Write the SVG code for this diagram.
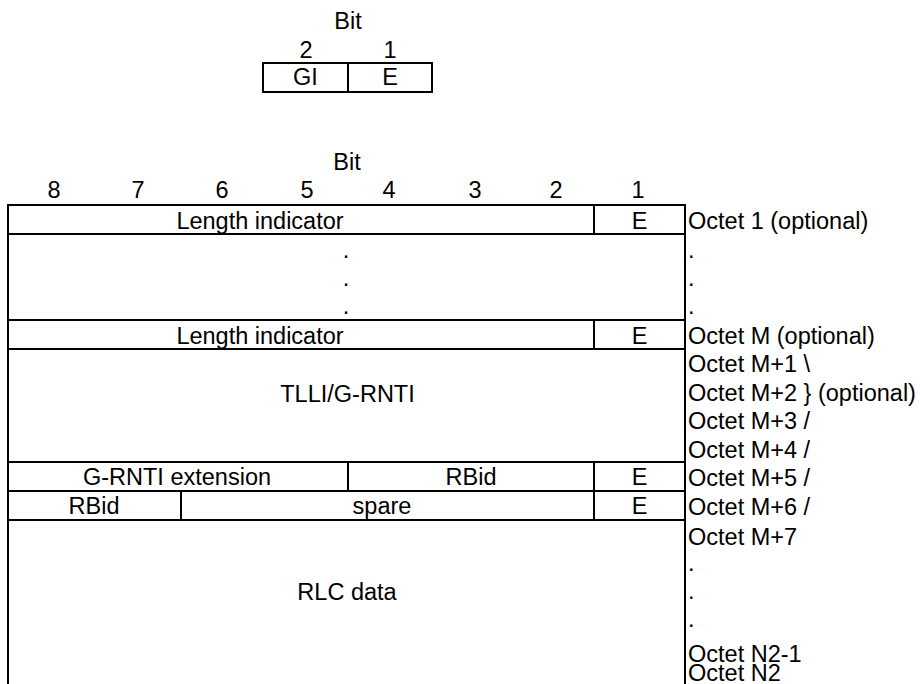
<svg xmlns="http://www.w3.org/2000/svg" width="920" height="684" viewBox="0 0 920 684">
<style>
text{font-family:"Liberation Sans",Arial,sans-serif;font-size:23.5px;fill:#000}
.c{text-anchor:middle}
.l{text-anchor:start}
.ln{stroke:#000;stroke-width:2;fill:none}
</style>
<rect width="920" height="684" fill="#fff"/>
<g id="small-header">
<text class="c" x="348" y="29">Bit</text>
<text class="c" x="306" y="58">2</text>
<text class="c" x="390" y="58">1</text>
</g>
<g id="small-box">
<rect class="ln" x="263" y="63" width="169" height="29"/>
<line class="ln" x1="348" y1="63" x2="348" y2="92"/>
<text class="c" x="305.5" y="85">GI</text>
<text class="c" x="390" y="85">E</text>
</g>
<g id="main-header">
<text class="c" x="347" y="170">Bit</text>
<text class="c" x="54" y="198">8</text>
<text class="c" x="138" y="198">7</text>
<text class="c" x="222" y="198">6</text>
<text class="c" x="307" y="198">5</text>
<text class="c" x="389" y="198">4</text>
<text class="c" x="475" y="198">3</text>
<text class="c" x="556" y="198">2</text>
<text class="c" x="638" y="198">1</text>
</g>
<g id="frame">
<line class="ln" x1="8" y1="205" x2="8" y2="684"/>
<line class="ln" x1="685" y1="205" x2="685" y2="684"/>
<line class="ln" x1="7" y1="205" x2="686" y2="205"/>
<line class="ln" x1="7" y1="234" x2="686" y2="234"/>
<line class="ln" x1="7" y1="320" x2="686" y2="320"/>
<line class="ln" x1="7" y1="349" x2="686" y2="349"/>
<line class="ln" x1="7" y1="462" x2="686" y2="462"/>
<line class="ln" x1="7" y1="491" x2="686" y2="491"/>
<line class="ln" x1="7" y1="520" x2="686" y2="520"/>
</g>
<g id="row-octet1">
<line class="ln" x1="594" y1="205" x2="594" y2="234"/>
<text class="c" x="260" y="229">Length indicator</text>
<text class="c" x="639.5" y="229">E</text>
</g>
<g id="row-dots">
<text class="c" x="346" y="258">.</text>
<text class="c" x="346" y="286">.</text>
<text class="c" x="346" y="314">.</text>
</g>
<g id="row-octetM">
<line class="ln" x1="594" y1="320" x2="594" y2="349"/>
<text class="c" x="260" y="344">Length indicator</text>
<text class="c" x="639.5" y="344">E</text>
</g>
<g id="row-tlli">
<text class="c" x="347.5" y="402">TLLI/G-RNTI</text>
</g>
<g id="row-grnti-ext">
<line class="ln" x1="348" y1="462" x2="348" y2="491"/>
<line class="ln" x1="594" y1="462" x2="594" y2="491"/>
<text class="c" x="177" y="485">G-RNTI extension</text>
<text class="c" x="471" y="485">RBid</text>
<text class="c" x="639.5" y="485">E</text>
</g>
<g id="row-rbid-spare">
<line class="ln" x1="181" y1="491" x2="181" y2="520"/>
<line class="ln" x1="594" y1="491" x2="594" y2="520"/>
<text class="c" x="94" y="514">RBid</text>
<text class="c" x="382" y="514">spare</text>
<text class="c" x="639.5" y="514">E</text>
</g>
<g id="row-rlc">
<text class="c" x="347" y="600">RLC data</text>
</g>
<g id="octet-labels">
<text class="l" x="688" y="229">Octet 1 (optional)</text>
<text class="l" x="688" y="258">.</text>
<text class="l" x="688" y="286">.</text>
<text class="l" x="688" y="314">.</text>
<text class="l" x="688" y="344">Octet M (optional)</text>
<text class="l" x="688" y="372">Octet M+1 \</text>
<text class="l" x="688" y="401">Octet M+2 } (optional)</text>
<text class="l" x="688" y="429">Octet M+3 /</text>
<text class="l" x="688" y="458">Octet M+4 /</text>
<text class="l" x="688" y="486">Octet M+5 /</text>
<text class="l" x="688" y="515">Octet M+6 /</text>
<text class="l" x="688" y="545">Octet M+7</text>
<text class="l" x="688" y="571">.</text>
<text class="l" x="688" y="599">.</text>
<text class="l" x="688" y="627">.</text>
<text class="l" x="688" y="662">Octet N2-1</text>
<text class="l" x="688" y="681">Octet N2</text>
</g>
</svg>
